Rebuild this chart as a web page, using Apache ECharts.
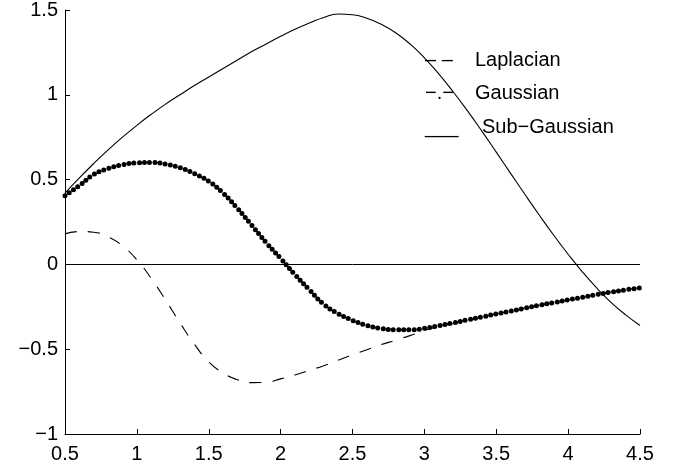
<!DOCTYPE html>
<html>
<head>
<meta charset="utf-8">
<script src="https://cdn.jsdelivr.net/npm/echarts@6/dist/echarts.min.js"></script>
<style>
html,body{margin:0;padding:0;background:#fff;}
#chart{width:678px;height:470px;}
</style>
</head>
<body>
<div id="chart"></div>
<script>
// x positions (step 0.1 from 0.5 to 4.5)
var xValues = [0.5,0.6,0.7,0.8,0.9,1.0,1.1,1.2,1.3,1.4,1.5,1.6,1.7,1.8,1.9,2.0,2.1,2.2,2.3,2.4,2.5,2.6,2.7,2.8,2.9,3.0,3.1,3.2,3.3,3.4,3.5,3.6,3.7,3.8,3.9,4.0,4.1,4.2,4.3,4.4,4.5];

var subGaussian = [0.42,0.51,0.595,0.675,0.75,0.82,0.885,0.945,1.0,1.055,1.105,1.155,1.205,1.255,1.30,1.345,1.387,1.423,1.456,1.476,1.472,1.451,1.416,1.366,1.30,1.218,1.123,1.018,0.905,0.786,0.662,0.537,0.412,0.29,0.172,0.06,-0.045,-0.14,-0.225,-0.298,-0.36];

var gaussian = [0.405,0.465,0.53,0.565,0.587,0.599,0.601,0.592,0.57,0.535,0.49,0.42,0.33,0.23,0.128,0.035,-0.06,-0.15,-0.235,-0.29,-0.33,-0.36,-0.378,-0.386,-0.386,-0.377,-0.362,-0.345,-0.327,-0.31,-0.292,-0.275,-0.258,-0.241,-0.225,-0.209,-0.194,-0.178,-0.163,-0.15,-0.138];

var laplacian = [0.18,0.194,0.19,0.162,0.11,0.027,-0.083,-0.21,-0.345,-0.47,-0.575,-0.64,-0.68,-0.697,-0.695,-0.675,-0.652,-0.625,-0.597,-0.565,-0.533,-0.503,-0.473,-0.447,-0.42,-0.39,-0.368,-0.348,-0.327,-0.31,-0.292,-0.275,-0.258,-0.241,-0.225,-0.209,-0.194,-0.178,-0.163,-0.15,-0.138];

var xTicks = {min: 0.5, max: 4.5, interval: 0.5};
var yTicks = {min: -1, max: 1.5, interval: 0.5};

var legendItems = [
  {sym: '\u2013 \u2013', name: 'Laplacian'},
  {sym: '\u2212.\u2212', name: 'Gaussian'},
  {sym: '___', name: 'Sub\u2212Gaussian'}
];

function pairs(ys){ return xValues.map(function(x,i){ return [x, ys[i]]; }); }

var FONT = "'Liberation Sans', Arial, Helvetica, sans-serif";
var chart = echarts.init(document.getElementById('chart'), null, {renderer:'canvas'});

var legendGraphics = [];
var symX = 425, textX = [475, 475, 482], rowY = [60, 93, 127];
legendItems.forEach(function(it, i){
  legendGraphics.push({type:'text', x: symX, y: rowY[i], style:{text: it.sym, font: '20px ' + FONT, fill:'#000', verticalAlign:'middle', align:'left'}});
  legendGraphics.push({type:'text', x: textX[i], y: rowY[i], style:{text: it.name, font: '20px ' + FONT, fill:'#000', verticalAlign:'middle', align:'left'}});
});

chart.setOption({
  animation: false,
  backgroundColor: '#fff',
  grid: {left: 65, right: 38, top: 9, bottom: 36, containLabel: false},
  xAxis: {
    type: 'value', min: xTicks.min, max: xTicks.max, interval: xTicks.interval,
    axisLine: {show: true, onZero: false, lineStyle: {color: '#000', width: 1}},
    axisTick: {show: true, inside: true, length: 5, lineStyle: {color: '#000', width: 1}},
    splitLine: {show: false},
    axisLabel: {color: '#000', fontSize: 20, fontFamily: FONT, margin: 10}
  },
  yAxis: {
    type: 'value', min: yTicks.min, max: yTicks.max, interval: yTicks.interval,
    axisLine: {show: true, onZero: false, lineStyle: {color: '#000', width: 1}},
    axisTick: {show: true, inside: true, length: 5, lineStyle: {color: '#000', width: 1}},
    splitLine: {show: false},
    axisLabel: {color: '#000', fontSize: 20, fontFamily: FONT, margin: 7,
      formatter: function(v){ return String(v).replace('-', '\u2212'); }}
  },
  series: [
    {
      name: 'Laplacian', type: 'line', data: pairs(laplacian), smooth: 0.5, showSymbol: false,
      lineStyle: {color: '#000', width: 1.1, type: [12, 11]},
      markLine: {silent: true, symbol: ['none','none'], label: {show: false},
        lineStyle: {color: '#000', width: 1, type: 'solid'}, data: [{yAxis: 0}]}
    },
    {
      name: 'Gaussian', type: 'line', data: pairs(gaussian), smooth: 0.5, showSymbol: false,
      lineStyle: {color: '#000', width: 5, type: [0, 5.2], cap: 'round'}
    },
    {
      name: 'Sub-Gaussian', type: 'line', data: pairs(subGaussian), smooth: 0.5, showSymbol: false,
      lineStyle: {color: '#000', width: 1.1, type: 'solid'}
    }
  ],
  graphic: legendGraphics
});
</script>
</body>
</html>
